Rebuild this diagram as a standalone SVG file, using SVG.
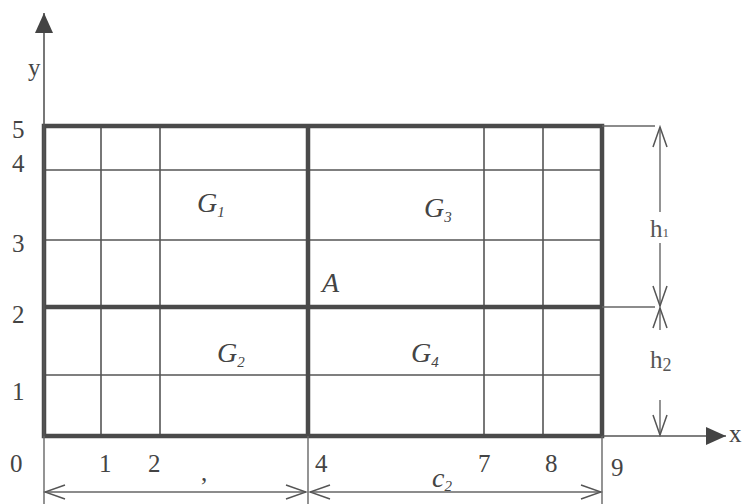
<svg xmlns="http://www.w3.org/2000/svg" width="745" height="504" viewBox="0 0 745 504">
<style>
.thin{stroke:#555;stroke-width:1.6;fill:none}
.thick{stroke:#4a4a4a;stroke-width:4.5;fill:none}
.dim{stroke:#666;stroke-width:1.4;fill:none}
.num{font-family:"Liberation Serif",serif;font-size:25px;fill:#444}
.hl{font-family:"Liberation Serif",serif;font-size:25px;fill:#555}
.lab{font-family:"Liberation Serif",serif;font-size:28px;font-style:italic;fill:#444}
.sub{font-size:15px}
</style>
<defs>
<marker id="open" markerWidth="24" markerHeight="16" refX="22" refY="8" orient="auto-start-reverse" markerUnits="userSpaceOnUse">
<path d="M2,1 L22,8 L2,15" fill="none" stroke="#555" stroke-width="1.5"/>
</marker>
<marker id="solid" markerWidth="22" markerHeight="20" refX="20" refY="10" orient="auto" markerUnits="userSpaceOnUse">
<path d="M0,1 L20,10 L0,19 Z" fill="#444"/>
</marker>
</defs>
<rect width="745" height="504" fill="#fff"/>
<g id="grid">
<line class="thin" x1="101" y1="126" x2="101" y2="436"/>
<line class="thin" x1="160" y1="126" x2="160" y2="436"/>
<line class="thin" x1="484" y1="126" x2="484" y2="436"/>
<line class="thin" x1="543" y1="126" x2="543" y2="436"/>
<line class="thin" x1="44" y1="170" x2="602" y2="170"/>
<line class="thin" x1="44" y1="240" x2="602" y2="240"/>
<line class="thin" x1="44" y1="375" x2="602" y2="375"/>
<rect class="thick" x="44" y="126" width="558" height="310"/>
<line class="thick" x1="308" y1="126" x2="308" y2="436"/>
<line class="thick" x1="44" y1="307" x2="602" y2="307"/>
</g>
<g id="axes">
<line class="thin" x1="44" y1="436" x2="44" y2="13" marker-end="url(#solid)"/>
<line class="thin" x1="602" y1="436" x2="726" y2="436" marker-end="url(#solid)"/>
</g>
<g id="connectors">
<line class="dim" x1="44" y1="436" x2="44" y2="504"/>
<line class="dim" x1="308" y1="436" x2="308" y2="504"/>
<line class="dim" x1="602" y1="436" x2="602" y2="504"/>
<line class="dim" x1="45" y1="492" x2="306" y2="492" marker-start="url(#open)" marker-end="url(#open)"/>
<line class="dim" x1="310" y1="492" x2="601" y2="492" marker-start="url(#open)" marker-end="url(#open)"/>
<line class="dim" x1="602" y1="126" x2="655" y2="126"/>
<line class="dim" x1="602" y1="307" x2="655" y2="307"/>
<line class="dim" x1="660" y1="212" x2="660" y2="127" marker-end="url(#open)"/>
<line class="dim" x1="660" y1="243" x2="660" y2="306" marker-end="url(#open)"/>
<line class="dim" x1="660" y1="330" x2="660" y2="308" marker-end="url(#open)"/>
<line class="dim" x1="660" y1="400" x2="660" y2="435" marker-end="url(#open)"/>
</g>
<g id="labels">
<text class="num" x="28" y="76" font-size="27">y</text>
<text class="num" x="729" y="442" font-size="27">x</text>
<text class="num" x="12" y="138">5</text>
<text class="num" x="12" y="172">4</text>
<text class="num" x="12" y="252">3</text>
<text class="num" x="12" y="323">2</text>
<text class="num" x="12" y="400">1</text>
<text class="num" x="10" y="472">0</text>
<text class="num" x="99" y="472">1</text>
<text class="num" x="148" y="472">2</text>
<text class="num" x="315" y="472">4</text>
<text class="num" x="478" y="472">7</text>
<text class="num" x="545" y="472">8</text>
<text class="num" x="611" y="476">9</text>
<text class="num" x="201" y="481" font-size="14">,</text>
<text class="lab" x="432" y="487" font-size="24">c<tspan class="sub" dy="4">2</tspan></text>
<text class="hl" x="650" y="237">h<tspan font-size="13" dy="0">1</tspan></text>
<text class="hl" x="650" y="368">h<tspan font-size="18" dy="3">2</tspan></text>
</g>
<g id="G1"><text class="lab" x="197" y="212">G<tspan class="sub" dy="5">1</tspan></text></g>
<g id="G3"><text class="lab" x="424" y="217">G<tspan class="sub" dy="5">3</tspan></text></g>
<g id="A"><text class="lab" x="322" y="292" font-size="23">A</text></g>
<g id="G2"><text class="lab" x="217" y="362">G<tspan class="sub" dy="5">2</tspan></text></g>
<g id="G4"><text class="lab" x="411" y="362">G<tspan class="sub" dy="5">4</tspan></text></g>
</svg>
